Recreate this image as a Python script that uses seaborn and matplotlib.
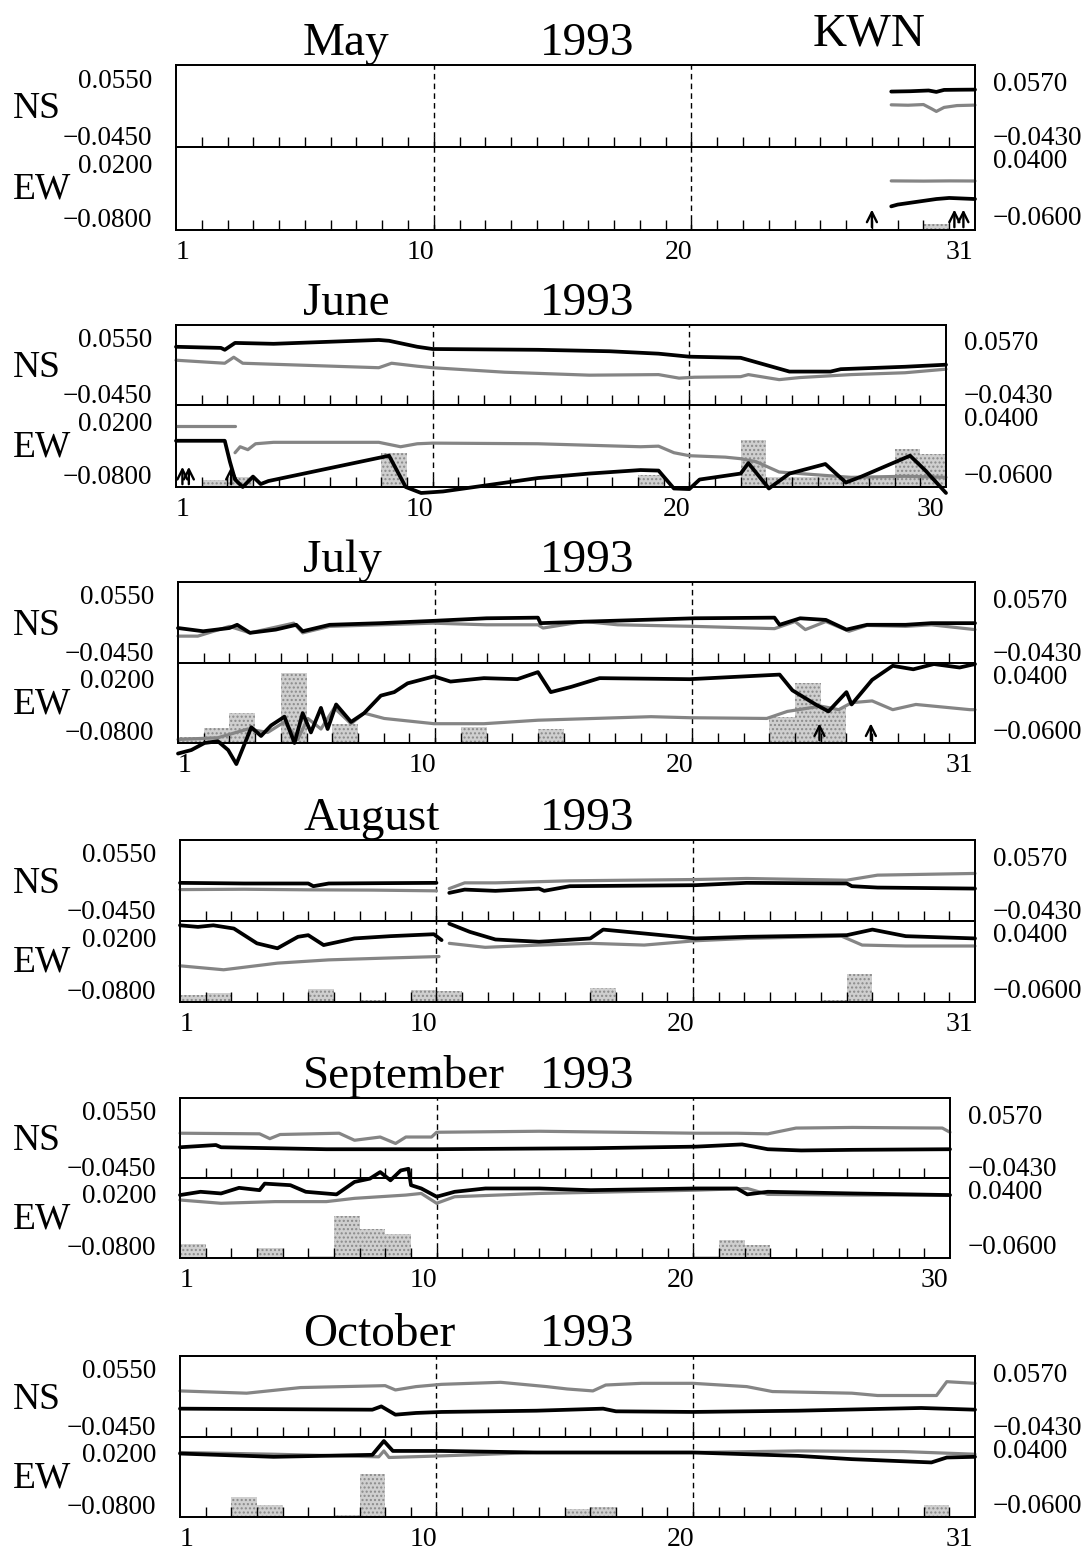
import matplotlib
matplotlib.use("Agg")
import matplotlib.pyplot as plt
import seaborn as sns

# ---------------- data (day offsets from start of month; values in left-axis units) -------------
months = ["May", "June", "July", "August", "September", "October"]
year_label = "1993"
station = "KWN"
ndays = [31, 30, 31, 31, 30, 31]

# May
may_ns_thick_x = [27.75, 28.5, 29.2, 29.5, 29.8, 30.4, 31.0]
may_ns_thick_y = [0.0316, 0.0322, 0.0335, 0.0310, 0.0345, 0.0348, 0.0350]
may_ns_gray_x = [27.75, 28.4, 29.0, 29.3, 29.5, 29.8, 30.3, 31.0]
may_ns_gray_y = [0.0085, 0.0078, 0.0090, 0.0020, -0.0030, 0.0040, 0.0072, 0.0080]
may_ew_thick_x = [27.75, 28.0, 28.8, 29.5, 30.0, 31.0]
may_ew_thick_y = [-0.0593, -0.0560, -0.0505, -0.0457, -0.0437, -0.0457]
may_ew_gray_x = [27.75, 29.0, 30.0, 31.0]
may_ew_gray_y = [-0.0121, -0.0125, -0.0121, -0.0123]
may_bar_days = [30]
may_bar_vals = [7]
may_arrows = [27.0, 30.2, 30.55]

# June
jun_ns_thick_x = [0, 1.75, 1.9, 2.3, 3.8, 7.9, 8.3, 9.4, 10.0, 14.1, 16.9, 18.8, 20.0, 22.0, 23.9, 25.5, 25.9, 28.4, 30.0]
jun_ns_thick_y = [0.0390, 0.0370, 0.0336, 0.0459, 0.0443, 0.0512, 0.0497, 0.0390, 0.0350, 0.0336, 0.0310, 0.0267,
                  0.0213, 0.0193, -0.0053, -0.0053, -0.0010, 0.0033, 0.0070]
jun_ns_gray_x = [0, 1.9, 2.25, 2.6, 7.9, 8.4, 9.4, 10.0, 12.8, 16.1, 18.8, 19.6, 20.2, 22.0, 22.3, 23.5, 24.3, 26.3, 28.4, 30.0]
jun_ns_gray_y = [0.0150, 0.0096, 0.0203, 0.0096, 0.0016, 0.0096, 0.0043, 0.0016, -0.0064, -0.0117, -0.0107, -0.0170,
                 -0.0154, -0.0144, -0.0107, -0.0197, -0.0160, -0.0107, -0.0074, -0.0010]
jun_ew_thick_x = [0, 1.9, 2.1, 2.3, 2.6, 3.0, 3.3, 3.6, 8.3, 8.95, 9.55, 10.4, 14.1, 16.1, 18.1, 18.8, 19.4, 20.0, 20.4,
                  22.0, 22.3, 23.1, 23.9, 25.3, 26.1, 26.7, 28.6, 29.2, 30.0]
jun_ew_thick_y = [-0.0164, -0.0164, -0.0556, -0.0891, -0.1031, -0.0836, -0.0976, -0.0919, -0.0444, -0.1031, -0.1143,
                  -0.1115, -0.0863, -0.0779, -0.0713, -0.0723, -0.1059, -0.1070, -0.0891, -0.0779, -0.0583, -0.1059,
                  -0.0779, -0.0600, -0.0947, -0.0836, -0.0444, -0.0723, -0.1143]
jun_ew_gray1_x = [0, 2.3]
jun_ew_gray1_y = [0.0104, 0.0104]
jun_ew_gray2_x = [2.3, 2.5, 2.8, 3.1, 3.8, 7.9, 8.75, 9.4, 10.0, 14.1, 16.1, 18.1, 18.8, 19.4, 20.0, 21.4, 22.0, 22.6,
                  23.5, 26.3, 28.4, 30.0]
jun_ew_gray2_y = [-0.0388, -0.0276, -0.0331, -0.0220, -0.0193, -0.0193, -0.0276, -0.0220, -0.0208, -0.0220, -0.0248,
                  -0.0276, -0.0265, -0.0388, -0.0444, -0.0471, -0.0500, -0.0556, -0.0750, -0.0850, -0.0830, -0.0850]
jun_bar_days = [2, 3, 9, 19, 23, 24, 25, 26, 27, 28, 29, 30]
jun_bar_vals = [9, 12, 42, 15, 57, 12, 12, 12, 12, 12, 46, 40]
jun_arrows = [0.25, 0.5, 2.15]

# July
jul_ns_thick_x = [0, 0.98, 2.0, 2.3, 2.8, 3.8, 4.6, 4.85, 5.9, 7.9, 9.9, 12.0, 14.0, 14.1, 16.0, 20.1, 23.2, 23.4,
                  24.2, 25.2, 26.0, 26.8, 28.3, 29.3, 31.0]
jul_ns_thick_y = [-0.0033, -0.0090, -0.0033, 0.0024, -0.0118, -0.0061, 0.0024, -0.0090, 0.0024, 0.0053, 0.0093,
                  0.0139, 0.0150, 0.0053, 0.0082, 0.0139, 0.0150, 0.0024, 0.0139, 0.0110, -0.0061, 0.0024, 0.0024,
                  0.0053, 0.0053]
jul_ns_gray_x = [0, 0.77, 2.0, 2.8, 4.5, 4.85, 5.9, 9.9, 12.0, 14.0, 14.2, 15.8, 17.1, 20.1, 23.2, 24.0, 24.4, 25.2,
                 26.1, 26.8, 28.3, 29.3, 31.0]
jul_ns_gray_y = [-0.0176, -0.0176, -0.0004, -0.0118, 0.0053, -0.0118, -0.0004, 0.0053, 0.0024, 0.0024, -0.0033,
                 0.0082, 0.0024, -0.0004, -0.0044, 0.0082, -0.0061, 0.0082, -0.0090, 0.0013, -0.0004, 0.0024, -0.0061]
jul_ew_thick_x = [0, 0.52, 1.03, 1.55, 1.95, 2.27, 2.66, 2.85, 3.23, 3.62, 4.14, 4.53, 4.85, 5.17, 5.56, 5.82, 6.15,
                  6.73, 7.24, 7.89, 8.41, 8.93, 9.96, 10.6, 11.9, 13.2, 14.0, 14.5, 15.3, 16.4, 19.9, 23.4, 23.9,
                  24.8, 25.3, 26.0, 26.2, 27.0, 27.8, 28.6, 29.4, 30.4, 31.0]
jul_ew_thick_y = [-0.1234, -0.1166, -0.1031, -0.0997, -0.1166, -0.1436, -0.0963, -0.0728, -0.0896, -0.0694,
                  -0.0525, -0.1031, -0.0457, -0.0828, -0.0356, -0.0762, -0.0290, -0.0626, -0.0457, -0.0120,
                  -0.0053, 0.0116, 0.0250, 0.0150, 0.0216, 0.0196, 0.0332, -0.0053, 0.0049, 0.0216,
                  0.0196, 0.0284, -0.0019, -0.0290, -0.0424, -0.0053, -0.0290, 0.0183, 0.0453, 0.0386,
                  0.0487, 0.0420, 0.0487]
jul_ew_gray_x = [0, 1.55, 2.72, 3.49, 4.14, 4.66, 5.05, 5.56, 6.08, 6.73, 7.24, 8.02, 9.96, 11.9, 14.0, 18.4, 19.9,
                 22.9, 23.7, 25.0, 25.7, 26.2, 27.0, 27.8, 28.7, 30.8, 31.0]
jul_ew_gray_y = [-0.0963, -0.0930, -0.0762, -0.0828, -0.0626, -0.0963, -0.0559, -0.0762, -0.0356, -0.0660, -0.0457,
                 -0.0559, -0.0660, -0.0660, -0.0593, -0.0525, -0.0545, -0.0559, -0.0424, -0.0322, -0.0390, -0.0256,
                 -0.0222, -0.0390, -0.0290, -0.0390, -0.0390]
jul_bar_days = [1, 2, 3, 5, 7, 12, 15, 24, 25, 26]
jul_bar_vals = [7, 19, 37, 88, 24, 20, 17, 33, 75, 44]
jul_arrows = [24.95, 26.95]

# August
aug_ns_thick1_x = [0, 2.5, 5.0, 5.2, 5.8, 8.0, 10.0]
aug_ns_thick1_y = [0.0023, 0.0012, 0.0012, -0.0036, 0.0012, 0.0018, 0.0023]
aug_ns_thick2_x = [10.5, 11.1, 12.3, 14.0, 14.2, 15.2, 20.1, 22.1, 26.0, 26.2, 27.2, 31.0]
aug_ns_thick2_y = [-0.0154, -0.0096, -0.0118, -0.0078, -0.0118, -0.0036, -0.0018, 0.0023, 0.0012, -0.0036, -0.0060, -0.0078]
aug_ns_gray1_x = [0, 2.5, 5.0, 7.5, 10.0]
aug_ns_gray1_y = [-0.0096, -0.0090, -0.0100, -0.0105, -0.0118]
aug_ns_gray2_x = [10.5, 11.1, 12.3, 15.2, 20.1, 22.1, 26.0, 27.2, 31.0]
aug_ns_gray2_y = [-0.0078, 0.0023, 0.0023, 0.0059, 0.0082, 0.0100, 0.0070, 0.0159, 0.0189]
aug_ew_thick1_x = [0, 0.7, 1.3, 2.1, 3.0, 3.8, 4.6, 5.0, 5.6, 6.8, 8.2, 9.9, 10.2]
aug_ew_thick1_y = [0.0425, 0.0395, 0.0425, 0.0364, 0.0083, -0.0011, 0.0207, 0.0238, 0.0050, 0.0176, 0.0219, 0.0256, 0.0144]
aug_ew_thick2_x = [10.5, 11.3, 12.3, 14.0, 16.0, 16.5, 18.1, 20.1, 22.1, 26.0, 27.0, 28.3, 31.0]
aug_ew_thick2_y = [0.0456, 0.0301, 0.0156, 0.0113, 0.0176, 0.0344, 0.0270, 0.0176, 0.0207, 0.0238, 0.0344, 0.0219, 0.0176]
aug_ew_gray1_x = [0, 1.7, 3.8, 5.8, 7.9, 10.1]
aug_ew_gray1_y = [-0.0344, -0.0419, -0.0293, -0.0231, -0.0199, -0.0168]
aug_ew_gray2_x = [10.5, 11.9, 14.0, 16.0, 18.1, 20.1, 22.1, 25.8, 26.6, 28.3, 31.0]
aug_ew_gray2_y = [0.0083, 0.0007, 0.0050, 0.0083, 0.0050, 0.0132, 0.0176, 0.0219, 0.0050, 0.0032, 0.0032]
aug_bar_days = [1, 2, 6, 8, 10, 11, 17, 26, 27]
aug_bar_vals = [9, 11, 16, 3, 15, 14, 17, 3, 34]
aug_arrows = []

# September
sep_ns_gray_x = [0, 3.1, 3.5, 3.9, 6.2, 6.8, 7.8, 8.4, 8.8, 9.8, 10.0, 14.0, 20.1, 21.7, 22.9, 24.0, 26.2, 29.7, 30.0]
sep_ns_gray_y = [0.0150, 0.0139, 0.0053, 0.0127, 0.0150, 0.0024, 0.0082, -0.0033, 0.0082, 0.0082, 0.0167, 0.0185,
                 0.0150, 0.0150, 0.0139, 0.0242, 0.0253, 0.0242, 0.0167]
sep_ns_thick_x = [0, 1.4, 1.6, 5.7, 9.8, 16.0, 20.1, 21.9, 22.9, 24.2, 26.2, 30.0]
sep_ns_thick_y = [-0.0101, -0.0061, -0.0101, -0.0136, -0.0136, -0.0118, -0.0090, -0.0050, -0.0136, -0.0158, -0.0147, -0.0136]
sep_ew_thick_x = [0, 0.8, 1.6, 2.3, 3.1, 3.3, 4.3, 4.9, 6.1, 6.8, 7.4, 7.8, 8.2, 8.6, 8.9, 9.0, 9.4, 10.0, 10.7,
                  11.9, 14.0, 16.0, 20.1, 21.7, 22.1, 22.9, 26.2, 30.0]
sep_ew_thick_y = [0.0179, 0.0242, 0.0210, 0.0318, 0.0273, 0.0399, 0.0369, 0.0242, 0.0192, 0.0432, 0.0495, 0.0621,
                  0.0462, 0.0652, 0.0684, 0.0369, 0.0306, 0.0147, 0.0242, 0.0306, 0.0306, 0.0273, 0.0306, 0.0306,
                  0.0192, 0.0242, 0.0210, 0.0179]
sep_ew_gray_x = [0, 1.6, 3.7, 5.7, 6.8, 8.8, 9.4, 10.0, 10.7, 14.0, 20.1, 22.1, 22.9, 26.2, 30.0]
sep_ew_gray_y = [0.0084, 0.0021, 0.0053, 0.0053, 0.0116, 0.0179, 0.0210, 0.0021, 0.0147, 0.0210, 0.0273, 0.0306,
                 0.0192, 0.0179, 0.0179]
sep_bar_days = [1, 4, 6, 7, 8, 9, 21, 22, 23]
sep_bar_vals = [17, 13, 3, 52, 36, 30, 3, 23, 16]
sep_arrows = []

# October
oct_ns_gray_x = [0, 2.6, 4.7, 8.0, 8.4, 9.2, 10.2, 12.5, 14.3, 15.1, 16.1, 16.6, 18.0, 20.0, 22.1, 23.1, 26.2, 27.2,
                 29.5, 29.9, 31.0]
oct_ns_gray_y = [0.0163, 0.0123, 0.0222, 0.0256, 0.0180, 0.0239, 0.0279, 0.0315, 0.0239, 0.0197, 0.0163, 0.0267,
                 0.0297, 0.0297, 0.0239, 0.0152, 0.0123, 0.0082, 0.0082, 0.0326, 0.0297]
oct_ns_thick_x = [0, 7.5, 7.85, 8.4, 9.2, 10.2, 13.9, 16.5, 17.0, 20.0, 24.1, 28.9, 31.0]
oct_ns_thick_y = [-0.0150, -0.0168, -0.0110, -0.0256, -0.0226, -0.0208, -0.0186, -0.0150, -0.0197, -0.0208,
                  -0.0186, -0.0138, -0.0168]
oct_ew_gray_x = [0, 3.65, 7.75, 7.95, 8.15, 10.2, 13.9, 20.0, 24.1, 28.2, 31.0]
oct_ew_gray_y = [0.0209, 0.0176, 0.0126, 0.0239, 0.0113, 0.0144, 0.0209, 0.0209, 0.0239, 0.0227, 0.0176]
oct_ew_thick_x = [0, 3.65, 7.5, 7.95, 8.3, 10.2, 13.9, 20.0, 24.1, 26.2, 29.3, 29.9, 31.0]
oct_ew_thick_y = [0.0189, 0.0126, 0.0164, 0.0430, 0.0239, 0.0239, 0.0209, 0.0209, 0.0144, 0.0081, 0.0018, 0.0113, 0.0126]
oct_bar_days = [3, 4, 7, 8, 16, 17, 30]
oct_bar_vals = [25, 15, 2, 54, 10, 13, 15]
oct_arrows = []

# axis tick labels
ns_left_ticks = [-0.045, 0.055]
ns_left_labels = ["\u22120.0450", "0.0550"]
ns_right_ticks = [-0.043, 0.057]
ns_right_labels = ["\u22120.0430", "0.0570"]
ew_left_ticks = [-0.08, 0.02]
ew_left_labels = ["\u22120.0800", "0.0200"]
ew_right_ticks = [-0.06, 0.04]
ew_right_labels = ["\u22120.0600", "0.0400"]

# ---------------- options table built from the arrays ----------------
panels = [
    dict(ns_thick=[(may_ns_thick_x, may_ns_thick_y)], ns_gray=[(may_ns_gray_x, may_ns_gray_y)],
         ew_thick=[(may_ew_thick_x, may_ew_thick_y)], ew_gray=[(may_ew_gray_x, may_ew_gray_y)],
         bars=(may_bar_days, may_bar_vals), arrows=may_arrows),
    dict(ns_thick=[(jun_ns_thick_x, jun_ns_thick_y)], ns_gray=[(jun_ns_gray_x, jun_ns_gray_y)],
         ew_thick=[(jun_ew_thick_x, jun_ew_thick_y)],
         ew_gray=[(jun_ew_gray1_x, jun_ew_gray1_y), (jun_ew_gray2_x, jun_ew_gray2_y)],
         bars=(jun_bar_days, jun_bar_vals), arrows=jun_arrows),
    dict(ns_thick=[(jul_ns_thick_x, jul_ns_thick_y)], ns_gray=[(jul_ns_gray_x, jul_ns_gray_y)],
         ew_thick=[(jul_ew_thick_x, jul_ew_thick_y)], ew_gray=[(jul_ew_gray_x, jul_ew_gray_y)],
         bars=(jul_bar_days, jul_bar_vals), arrows=jul_arrows),
    dict(ns_thick=[(aug_ns_thick1_x, aug_ns_thick1_y), (aug_ns_thick2_x, aug_ns_thick2_y)],
         ns_gray=[(aug_ns_gray1_x, aug_ns_gray1_y), (aug_ns_gray2_x, aug_ns_gray2_y)],
         ew_thick=[(aug_ew_thick1_x, aug_ew_thick1_y), (aug_ew_thick2_x, aug_ew_thick2_y)],
         ew_gray=[(aug_ew_gray1_x, aug_ew_gray1_y), (aug_ew_gray2_x, aug_ew_gray2_y)],
         bars=(aug_bar_days, aug_bar_vals), arrows=aug_arrows),
    dict(ns_thick=[(sep_ns_thick_x, sep_ns_thick_y)], ns_gray=[(sep_ns_gray_x, sep_ns_gray_y)],
         ew_thick=[(sep_ew_thick_x, sep_ew_thick_y)], ew_gray=[(sep_ew_gray_x, sep_ew_gray_y)],
         bars=(sep_bar_days, sep_bar_vals), arrows=sep_arrows),
    dict(ns_thick=[(oct_ns_thick_x, oct_ns_thick_y)], ns_gray=[(oct_ns_gray_x, oct_ns_gray_y)],
         ew_thick=[(oct_ew_thick_x, oct_ew_thick_y)], ew_gray=[(oct_ew_gray_x, oct_ew_gray_y)],
         bars=(oct_bar_days, oct_bar_vals), arrows=oct_arrows),
]

# ---------------- layout (pixels) ----------------
W, H = 1089, 1552
box_left = [176, 176, 178, 180, 180, 180]
box_right = [975, 946, 975, 975, 950, 975]
box_top = [65, 325, 582, 840, 1098, 1356]
box_mid = [147, 405, 663, 921, 1178, 1437]
box_bot = [230, 487, 743, 1002, 1258, 1517]

NS_LIM = (-0.065, 0.0779)
EW_LIM = (-0.1031, 0.0507)
NS_R_LIM = (-0.0642, 0.0873)
EW_R_LIM = (-0.0846, 0.0603)

sns.set_theme(style="white")
plt.rcParams["font.family"] = ["Liberation Serif", "DejaVu Serif"]
plt.rcParams["text.color"] = "black"
plt.rcParams["xtick.color"] = "black"
plt.rcParams["ytick.color"] = "black"
plt.rcParams["axes.labelcolor"] = "black"
plt.rcParams["hatch.color"] = "#7a7a7a"
plt.rcParams["hatch.linewidth"] = 1.0

fig = plt.figure(figsize=(W / 100, H / 100), dpi=100)
fig.patch.set_facecolor("white")


def fx(px):
    return px / W


def fy(py):
    return 1 - py / H


THICK = dict(color="black", lw=2.7, zorder=4)
GRAY = dict(color="#858585", lw=2.3, zorder=3)
TICK_FS = 19.5


def style_axis(ax, n):
    ax.set_xlim(0, n)
    ax.patch.set_visible(False)
    for s in ax.spines.values():
        s.set_color("black")
        s.set_linewidth(1.3)
        s.set_visible(True)
    ax.set_xticks(list(range(1, n)), minor=True)
    ax.tick_params(axis="x", which="minor", direction="in", length=7, width=1.0,
                   color="black", bottom=True, top=False)
    ax.tick_params(axis="y", which="both", length=0, left=False, right=False)
    ax.grid(False)
    ax.axvline(10, color="black", lw=1.0, ls=(0, (4, 3)), zorder=2)
    ax.axvline(20, color="black", lw=1.0, ls=(0, (4, 3)), zorder=2)


for i, name in enumerate(months):
    n = ndays[i]
    p = panels[i]
    l, r, t, m, b = box_left[i], box_right[i], box_top[i], box_mid[i], box_bot[i]
    w = fx(r) - fx(l)

    ax_ns = fig.add_axes([fx(l), fy(m), w, (m - t) / H])
    ax_ew = fig.add_axes([fx(l), fy(b), w, (b - m) / H])

    # rain-type bars on a hidden axis behind the EW panel
    ax_bar = ax_ew.twinx()
    ax_bar.set_ylim(0, 100)
    ax_bar.set_xlim(0, n)
    days, vals = p["bars"]
    ax_bar.bar([d - 0.5 for d in days], vals, width=1.0, facecolor="#cfcfcf",
               edgecolor="#8a8a8a", hatch="....", linewidth=0)
    ax_bar.axis("off")
    ax_bar.set_zorder(ax_ew.get_zorder() - 1)

    for ax in (ax_ns, ax_ew):
        style_axis(ax, n)

    ax_ns.set_ylim(*NS_LIM)
    ax_ew.set_ylim(*EW_LIM)

    for xs, ys in p["ns_gray"]:
        sns.lineplot(x=xs, y=ys, ax=ax_ns, estimator=None, sort=False, legend=False, clip_on=False, **GRAY)
    for xs, ys in p["ns_thick"]:
        sns.lineplot(x=xs, y=ys, ax=ax_ns, estimator=None, sort=False, legend=False, clip_on=False, **THICK)
    for xs, ys in p["ew_gray"]:
        sns.lineplot(x=xs, y=ys, ax=ax_ew, estimator=None, sort=False, legend=False, clip_on=False, **GRAY)
    for xs, ys in p["ew_thick"]:
        sns.lineplot(x=xs, y=ys, ax=ax_ew, estimator=None, sort=False, legend=False, clip_on=False, **THICK)

    for d in p["arrows"]:
        ax_ew.annotate("", xy=(d, 0.28), xycoords=("data", "axes fraction"),
                       xytext=(d, 0.0), textcoords=("data", "axes fraction"),
                       arrowprops=dict(arrowstyle="->", color="black", lw=1.7, mutation_scale=18),
                       zorder=5)

    # x labels only on EW panel
    ax_ns.set_xticks([])
    ax_ns.set_xticks(list(range(1, n)), minor=True)
    ax_ew.set_xticks([0.25, 9.5, 19.5, n - 0.6])
    ax_ew.set_xticklabels(["1", "10", "20", str(n)], fontsize=20)
    ax_ew.tick_params(axis="x", which="major", length=0, pad=7, bottom=True)
    ax_ns.set_xlabel("")
    ax_ew.set_xlabel("")
    ax_ns.set_ylabel("")
    ax_ew.set_ylabel("")

    # left y labels
    ax_ns.set_yticks(ns_left_ticks)
    ax_ns.set_yticklabels(ns_left_labels, fontsize=TICK_FS)
    ax_ew.set_yticks(ew_left_ticks)
    ax_ew.set_yticklabels(ew_left_labels, fontsize=TICK_FS)
    ax_ns.tick_params(axis="y", pad=17)
    ax_ew.tick_params(axis="y", pad=17)

    # right y labels
    axr_ns = ax_ns.twinx()
    axr_ns.set_ylim(*NS_R_LIM)
    axr_ns.set_yticks(ns_right_ticks)
    axr_ns.set_yticklabels(ns_right_labels, fontsize=TICK_FS)
    axr_ns.tick_params(axis="y", length=0, pad=13, right=False)
    axr_ns.patch.set_visible(False)
    axr_ew = ax_ew.twinx()
    axr_ew.set_ylim(*EW_R_LIM)
    axr_ew.set_yticks(ew_right_ticks)
    axr_ew.set_yticklabels(ew_right_labels, fontsize=TICK_FS)
    axr_ew.tick_params(axis="y", length=0, pad=13, right=False)
    axr_ew.patch.set_visible(False)
    for axr in (axr_ns, axr_ew):
        for s in axr.spines.values():
            s.set_color("black")
            s.set_linewidth(1.3)

    # side labels and titles
    fig.text(fx(13), fy((t + m) / 2 + 3), "NS", fontsize=27, va="center", ha="left")
    fig.text(fx(13), fy((m + b) / 2 + 1), "EW", fontsize=27, va="center", ha="left")
    fig.text(fx(303), fy(t - 10), name, fontsize=34, va="baseline", ha="left")
    fig.text(fx(540), fy(t - 10), year_label, fontsize=34, va="baseline", ha="left")
    if i == 0:
        fig.text(fx(813), fy(t - 20), station, fontsize=34, va="baseline", ha="left")

fig.savefig("out.png", dpi=100, facecolor="white")
